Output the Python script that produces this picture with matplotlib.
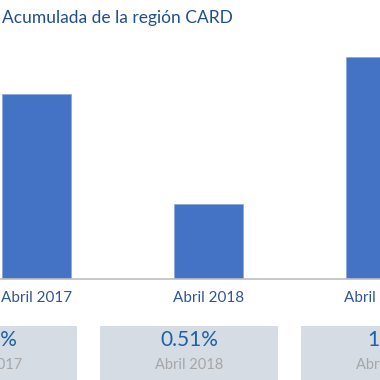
"""Acumulada de la región CARD: bar chart with summary boxes."""

import matplotlib.pyplot as plt
from matplotlib.patches import Rectangle

# data
periods = ["Abril 2017", "Abril 2018", "Abril 2019"]
values = [1.26, 0.51, 1.51]
box_values = ["1.26%", "0.51%", "1.5%"]

TITLE = "Acumulada de la región CARD"
BAR_COLOR = "#4472c4"
LABEL_COLOR = "#2f5597"
TITLE_COLOR = "#1f4e8c"
BOX_FILL = "#d6dce4"
BOX_VALUE_COLOR = "#1f5fa6"
BOX_SUB_COLOR = "#a6a6a6"

W = H = 380
plt.rcParams["font.family"] = ["Lato", "DejaVu Sans"]


def px(x, y):
    """pixel (from top-left) -> figure fraction"""
    return x / W, 1 - y / H


fig = plt.figure(figsize=(3.8, 3.8), dpi=100)

# bar axes: baseline at y=279 px, top at 40 px
ax_bottom = 1 - 279 / H
ax_top = 1 - 40 / H
ax = fig.add_axes([0, ax_bottom, 1, ax_top - ax_bottom])
xs = list(range(len(values)))
ax.bar(xs, values, width=0.4, color=BAR_COLOR, edgecolor="#8faadc", linewidth=0.6)
px_per_unit = 176
ax.set_xlim(-37.5 / px_per_unit, (W - 37.5) / px_per_unit)
ax.set_ylim(0, 239 / (75 / 0.51))
ax.set_xticks(xs)
ax.set_xticklabels(periods, fontsize=11, color=LABEL_COLOR)
ax.tick_params(axis="x", length=0, pad=9)
ax.set_yticks([])
for side in ("top", "left", "right"):
    ax.spines[side].set_visible(False)
ax.spines["bottom"].set_color("#bfbfbf")
ax.spines["bottom"].set_linewidth(1.2)

fig.text(*px(2, 18), TITLE, fontsize=12.5, color=TITLE_COLOR, ha="left", va="center")

# summary boxes
box_w, box_step, box0_left = 178, 201, -101
for i, (val, per) in enumerate(zip(box_values, periods)):
    left = box0_left + i * box_step
    x0, y0 = px(left, 390)
    fig.patches.append(Rectangle((x0, y0), box_w / W, 64 / H, transform=fig.transFigure,
                                 facecolor=BOX_FILL, edgecolor="none", zorder=0))
    cx = left + box_w / 2
    fig.text(*px(cx, 340), val, fontsize=15, color=BOX_VALUE_COLOR, ha="center", va="center")
    fig.text(*px(cx, 365), per, fontsize=10.5, color=BOX_SUB_COLOR, ha="center", va="center")

fig.savefig("out.png", dpi=100)
